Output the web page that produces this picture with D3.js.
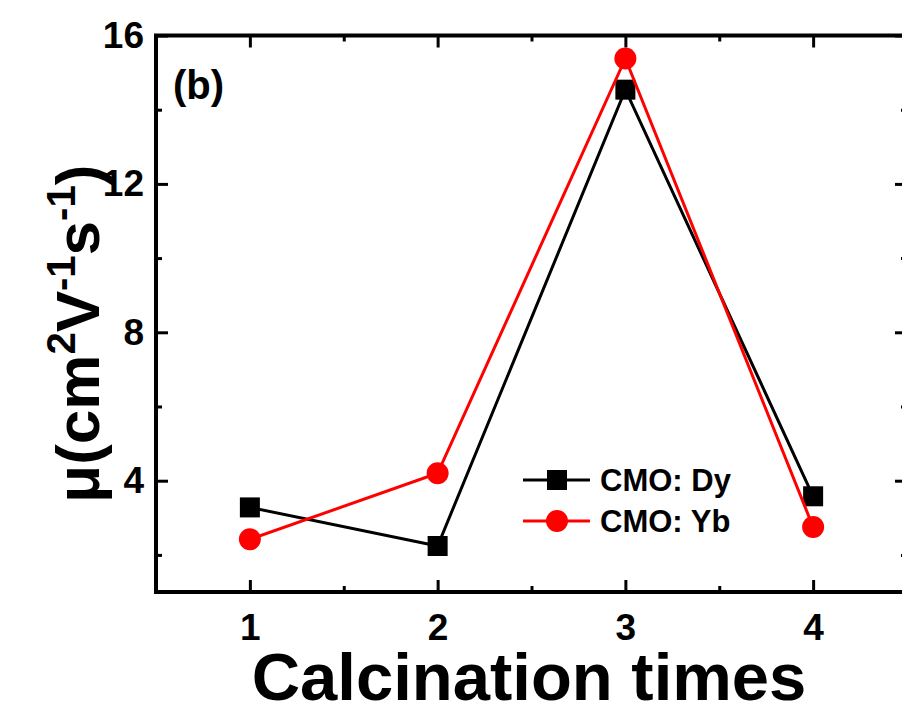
<!DOCTYPE html>
<html>
<head>
<meta charset="utf-8">
<script src="https://cdn.jsdelivr.net/npm/d3@7"></script>
<style>
  body { margin: 0; background: #fff; }
  text { font-family: "Liberation Sans", Arial, sans-serif; font-weight: bold; fill: #000; }
</style>
</head>
<body>
<div id="chart"></div>
<script>
// data
var times = [1, 2, 3, 4];
var dyValues = [3.28, 2.24, 14.54, 3.58];
var ybValues = [2.42, 4.2, 15.38, 2.75];
var yMajorTicks = [4, 8, 12, 16];
var yMinorTicks = [2, 6, 10, 14];
var xMinorTicks = [1.5, 2.5, 3.5];
var seriesNames = ['CMO: Dy', 'CMO: Yb'];

var chart_width = 902;
var chart_height = 706;
var plotLeft = 156, plotRight = 907, plotTop = 35.5, plotBottom = 592;

var svg = d3.select('#chart')
    .append('svg')
    .attr('width', chart_width)
    .attr('height', chart_height);

var xScale = d3.scaleLinear().domain([0.5, 4.5]).range([plotLeft, plotRight]);
var yScale = d3.scaleLinear().domain([1, 16]).range([plotBottom, plotTop]);

// axes, ticks point inward
var axisStyle = function(g) {
    g.select('.domain').remove();
    g.selectAll('line').attr('stroke', '#000').attr('stroke-width', 3);
};

svg.append('g')
    .attr('transform', 'translate(0,' + plotBottom + ')')
    .call(d3.axisBottom(xScale).tickValues(times).tickSize(-12).tickPadding(22).tickFormat(d3.format('d')))
    .call(axisStyle)
    .selectAll('text').style('font-size', '37px').attr('dy', '0.71em');

svg.append('g')
    .attr('transform', 'translate(0,' + plotTop + ')')
    .call(d3.axisTop(xScale).tickValues(times).tickSize(-12).tickFormat(''))
    .call(axisStyle);

svg.append('g')
    .attr('transform', 'translate(' + plotLeft + ',0)')
    .call(d3.axisLeft(yScale).tickValues(yMajorTicks).tickSize(-12).tickPadding(12).tickFormat(d3.format('d')))
    .call(axisStyle)
    .selectAll('text').style('font-size', '37px');

svg.append('g')
    .attr('transform', 'translate(' + plotRight + ',0)')
    .call(d3.axisRight(yScale).tickValues(yMajorTicks).tickSize(-12).tickFormat(''))
    .call(axisStyle);

// minor ticks
svg.append('g')
    .attr('transform', 'translate(' + plotLeft + ',0)')
    .call(d3.axisLeft(yScale).tickValues(yMinorTicks).tickSize(-6).tickFormat(''))
    .call(axisStyle);
svg.append('g')
    .attr('transform', 'translate(' + plotRight + ',0)')
    .call(d3.axisRight(yScale).tickValues(yMinorTicks).tickSize(-6).tickFormat(''))
    .call(axisStyle);
svg.append('g')
    .attr('transform', 'translate(0,' + plotBottom + ')')
    .call(d3.axisBottom(xScale).tickValues(xMinorTicks).tickSize(-6).tickFormat(''))
    .call(axisStyle);
svg.append('g')
    .attr('transform', 'translate(0,' + plotTop + ')')
    .call(d3.axisTop(xScale).tickValues(xMinorTicks).tickSize(-6).tickFormat(''))
    .call(axisStyle);

// frame
svg.append('rect')
    .attr('x', plotLeft).attr('y', plotTop)
    .attr('width', plotRight - plotLeft).attr('height', plotBottom - plotTop)
    .attr('fill', 'none').attr('stroke', '#000').attr('stroke-width', 4);

var line = d3.line()
    .x(function(d, i) { return xScale(times[i]); })
    .y(function(d) { return yScale(d); });

// Dy series
svg.append('path')
    .datum(dyValues)
    .attr('d', line)
    .attr('fill', 'none').attr('stroke', '#000').attr('stroke-width', 3);
svg.selectAll('rect.dy')
    .data(dyValues)
    .enter()
    .append('rect')
    .attr('class', 'dy')
    .attr('x', function(d, i) { return xScale(times[i]) - 10; })
    .attr('y', function(d) { return yScale(d) - 10; })
    .attr('width', 20).attr('height', 20)
    .attr('fill', '#000');

// Yb series
svg.append('path')
    .datum(ybValues)
    .attr('d', line)
    .attr('fill', 'none').attr('stroke', '#ff0000').attr('stroke-width', 3);
svg.selectAll('circle.yb')
    .data(ybValues)
    .enter()
    .append('circle')
    .attr('class', 'yb')
    .attr('cx', function(d, i) { return xScale(times[i]); })
    .attr('cy', function(d) { return yScale(d); })
    .attr('r', 11)
    .attr('fill', '#ff0000');

// legend
var legend = svg.append('g');
legend.append('line').attr('x1', 523).attr('x2', 590).attr('y1', 480).attr('y2', 480)
    .attr('stroke', '#000').attr('stroke-width', 3);
legend.append('rect').attr('x', 547).attr('y', 470).attr('width', 20).attr('height', 20).attr('fill', '#000');
legend.append('text').attr('x', 600).attr('y', 491).style('font-size', '31px').text(seriesNames[0]);
legend.append('line').attr('x1', 523).attr('x2', 590).attr('y1', 521).attr('y2', 521)
    .attr('stroke', '#ff0000').attr('stroke-width', 3);
legend.append('circle').attr('cx', 557).attr('cy', 521).attr('r', 11).attr('fill', '#ff0000');
legend.append('text').attr('x', 600).attr('y', 532).style('font-size', '31px').text(seriesNames[1]);

// panel label
svg.append('text').attr('x', 173).attr('y', 99).style('font-size', '40px').text('(b)');

// axis titles
svg.append('text')
    .attr('x', 529)
    .attr('y', 700)
    .attr('text-anchor', 'middle')
    .style('font-size', '67px')
    .text('Calcination times');

var yTitle = svg.append('text')
    .attr('transform', 'translate(99,' + ((plotTop + plotBottom) / 2 + 20) + ') rotate(-90)')
    .attr('text-anchor', 'middle')
    .style('font-size', '62px');
yTitle.append('tspan').text('\u03bc(cm');
yTitle.append('tspan').attr('dy', -24).style('font-size', '40px').text('2');
yTitle.append('tspan').attr('dy', 24).text('V');
yTitle.append('tspan').attr('dy', -24).style('font-size', '40px').text('-1');
yTitle.append('tspan').attr('dy', 24).text('s');
yTitle.append('tspan').attr('dy', -24).style('font-size', '40px').text('-1');
yTitle.append('tspan').attr('dy', 24).text(')');
</script>
</body>
</html>
